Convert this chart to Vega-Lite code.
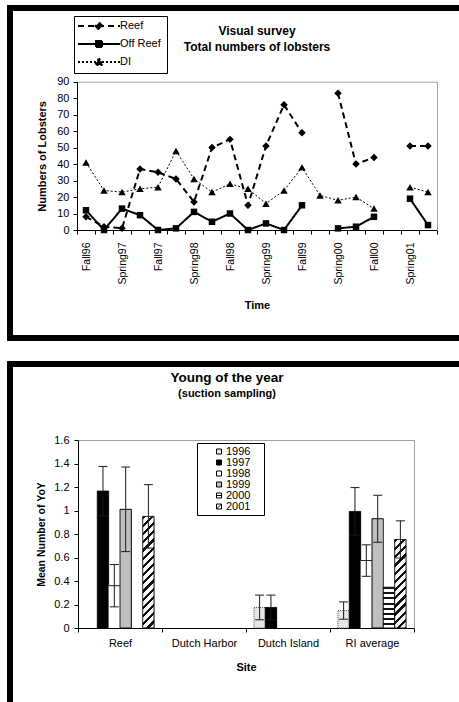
{
  "$schema": "https://vega.github.io/schema/vega-lite/v6.json",
  "padding": {"left": 2, "top": 5, "right": 0, "bottom": 0},
  "background": "white",
  "spacing": 20,
  "resolve": {"legend": {"fill": "independent", "strokeDash": "independent"}},
  "config": {
    "font": "Liberation Sans",
    "axis": {"labelFont": "Liberation Sans", "titleFont": "Liberation Sans", "labelColor": "black", "titleColor": "black", "domainColor": "black", "tickColor": "black", "grid": false, "titleFontWeight": "bold"},
    "legend": {"labelFont": "Liberation Sans", "labelColor": "black"},
    "title": {"font": "Liberation Sans", "subtitleFont": "Liberation Sans", "color": "black", "subtitleColor": "black"}
  },
  "vconcat": [
    {
      "width": 457,
      "height": 330,
      "view": {"stroke": "black", "strokeWidth": 6, "fill": "white"},
      "title": {"text": "Visual survey", "subtitle": "Total numbers of lobsters", "anchor": "start", "frame": "group", "align": "center", "dx": 247, "offset": -46, "fontSize": 12, "fontWeight": "bold", "subtitleFontSize": 12, "subtitleFontWeight": "bold", "subtitlePadding": 4},
      "data": {"values": [
        {"t": 1, "p": "Fall96", "s": "Reef", "v": 8}, {"t": 1, "p": "Fall96", "s": "Off Reef", "v": 12}, {"t": 1, "p": "Fall96", "s": "DI", "v": 41},
        {"t": 2, "p": "Winter97", "s": "Reef", "v": 2}, {"t": 2, "p": "Winter97", "s": "Off Reef", "v": 0}, {"t": 2, "p": "Winter97", "s": "DI", "v": 24},
        {"t": 3, "p": "Spring97", "s": "Reef", "v": 1}, {"t": 3, "p": "Spring97", "s": "Off Reef", "v": 13}, {"t": 3, "p": "Spring97", "s": "DI", "v": 23},
        {"t": 4, "p": "Summer97", "s": "Reef", "v": 37}, {"t": 4, "p": "Summer97", "s": "Off Reef", "v": 9}, {"t": 4, "p": "Summer97", "s": "DI", "v": 25},
        {"t": 5, "p": "Fall97", "s": "Reef", "v": 35}, {"t": 5, "p": "Fall97", "s": "Off Reef", "v": 0}, {"t": 5, "p": "Fall97", "s": "DI", "v": 26},
        {"t": 6, "p": "Winter98", "s": "Reef", "v": 31}, {"t": 6, "p": "Winter98", "s": "Off Reef", "v": 1}, {"t": 6, "p": "Winter98", "s": "DI", "v": 48},
        {"t": 7, "p": "Spring98", "s": "Reef", "v": 17}, {"t": 7, "p": "Spring98", "s": "Off Reef", "v": 11}, {"t": 7, "p": "Spring98", "s": "DI", "v": 31},
        {"t": 8, "p": "Summer98", "s": "Reef", "v": 50}, {"t": 8, "p": "Summer98", "s": "Off Reef", "v": 5}, {"t": 8, "p": "Summer98", "s": "DI", "v": 23},
        {"t": 9, "p": "Fall98", "s": "Reef", "v": 55}, {"t": 9, "p": "Fall98", "s": "Off Reef", "v": 10}, {"t": 9, "p": "Fall98", "s": "DI", "v": 28},
        {"t": 10, "p": "Winter99", "s": "Reef", "v": 15}, {"t": 10, "p": "Winter99", "s": "Off Reef", "v": 0}, {"t": 10, "p": "Winter99", "s": "DI", "v": 25},
        {"t": 11, "p": "Spring99", "s": "Reef", "v": 51}, {"t": 11, "p": "Spring99", "s": "Off Reef", "v": 4}, {"t": 11, "p": "Spring99", "s": "DI", "v": 16},
        {"t": 12, "p": "Summer99", "s": "Reef", "v": 76}, {"t": 12, "p": "Summer99", "s": "Off Reef", "v": 0}, {"t": 12, "p": "Summer99", "s": "DI", "v": 24},
        {"t": 13, "p": "Fall99", "s": "Reef", "v": 59}, {"t": 13, "p": "Fall99", "s": "Off Reef", "v": 15}, {"t": 13, "p": "Fall99", "s": "DI", "v": 38},
        {"t": 14, "p": "Winter00", "s": "Reef", "v": null}, {"t": 14, "p": "Winter00", "s": "Off Reef", "v": null}, {"t": 14, "p": "Winter00", "s": "DI", "v": 21},
        {"t": 15, "p": "Spring00", "s": "Reef", "v": 83}, {"t": 15, "p": "Spring00", "s": "Off Reef", "v": 1}, {"t": 15, "p": "Spring00", "s": "DI", "v": 18},
        {"t": 16, "p": "Summer00", "s": "Reef", "v": 40}, {"t": 16, "p": "Summer00", "s": "Off Reef", "v": 2}, {"t": 16, "p": "Summer00", "s": "DI", "v": 20},
        {"t": 17, "p": "Fall00", "s": "Reef", "v": 44}, {"t": 17, "p": "Fall00", "s": "Off Reef", "v": 8}, {"t": 17, "p": "Fall00", "s": "DI", "v": 13},
        {"t": 18, "p": "Winter01", "s": "Reef", "v": null}, {"t": 18, "p": "Winter01", "s": "Off Reef", "v": null}, {"t": 18, "p": "Winter01", "s": "DI", "v": null},
        {"t": 19, "p": "Spring01", "s": "Reef", "v": 51}, {"t": 19, "p": "Spring01", "s": "Off Reef", "v": 19}, {"t": 19, "p": "Spring01", "s": "DI", "v": 26},
        {"t": 20, "p": "Summer01", "s": "Reef", "v": 51}, {"t": 20, "p": "Summer01", "s": "Off Reef", "v": 3}, {"t": 20, "p": "Summer01", "s": "DI", "v": 23}
      ]},
      "layer": [
        {
          "mark": {"type": "line", "color": "black", "invalid": "break-paths-show-domains"},
          "encoding": {
            "x": {
              "field": "p", "type": "nominal",
              "scale": {"type": "band", "domain": ["Fall96","Winter97","Spring97","Summer97","Fall97","Winter98","Spring98","Summer98","Fall98","Winter99","Spring99","Summer99","Fall99","Winter00","Spring00","Summer00","Fall00","Winter01","Spring01","Summer01"], "range": [67, 427], "paddingInner": 0, "paddingOuter": 0},
              "axis": {"orient": "bottom", "offset": -108, "tickBand": "extent", "tickSize": 4, "labelAngle": -90, "labelPadding": 8, "labelFontSize": 10.5, "labelOverlap": false, "labelExpr": "indexof(datum.label,'Fall')===0 || indexof(datum.label,'Spring')===0 ? datum.label : ''", "title": "Time", "titleFontSize": 11, "titleY": 78, "titleBaseline": "alphabetic"}
            },
            "y": {
              "field": "v", "type": "quantitative",
              "scale": {"domain": [0, 90], "range": [222, 73.7], "nice": false},
              "axis": {"orient": "left", "offset": -67, "values": [0,10,20,30,40,50,60,70,80,90], "tickSize": 4, "labelPadding": 4, "labelFontSize": 11, "title": "Numbers of Lobsters", "titleFontSize": 11, "titleX": -35, "titleBaseline": "middle"}
            },
            "order": {"field": "t", "type": "quantitative"},
            "strokeDash": {
              "field": "s", "type": "nominal",
              "scale": {"domain": ["Reef", "Off Reef", "DI"], "range": [[6, 4], [1, 0], [2, 2]]},
              "legend": {
                "orient": "none", "legendX": 64, "legendY": 8, "title": " ", "titleOrient": "right", "titlePadding": 2, "titleFontSize": 11, "padding": 4,
                "strokeColor": "black", "fillColor": "white",
                "symbolSize": 100, "rowPadding": 3, "symbolOffset": 15, "labelOffset": 15,
                "labelFontSize": 11, "symbolStrokeColor": "black", "symbolStrokeWidth": 2,
                "encode": {
                  "symbols": {"update": {
                    "shape": {"signal": "datum.value==='Reef' ? 'M-4.2,0H4.2M0,-0.7L0.7,0L0,0.7L-0.7,0Z' : datum.value==='Off Reef' ? 'M-4.2,0H4.2M-0.6,-0.6H0.6V0.6H-0.6Z' : 'M-4.2,0H4.2M0,-0.75L0.75,0.6L-0.75,0.6Z'"},
                    "fill": {"value": "black"},
                    "stroke": {"value": "black"}
                  }}
                }
              }
            },
            "strokeWidth": {"condition": {"test": "datum.s==='DI'", "value": 1}, "value": 2}
          }
        },
        {
          "mark": {"type": "point", "filled": true, "color": "black", "opacity": 1},
          "encoding": {
            "x": {"field": "p", "type": "nominal", "axis": null},
            "y": {"field": "v", "type": "quantitative", "axis": null},
            "shape": {"field": "s", "type": "nominal", "scale": {"domain": ["Reef", "Off Reef", "DI"], "range": ["diamond", "square", "triangle-up"]}, "legend": null},
            "size": {"condition": {"test": "datum.s==='Off Reef'", "value": 42}, "value": 56}
          }
        },
        {
          "mark": {"type": "point", "opacity": 0},
          "encoding": {
            "x": {"field": "p", "type": "nominal", "axis": {"orient": "top", "offset": -73.7, "domainColor": "#a0a0a0", "ticks": false, "labels": false, "title": null}},
            "y": {"field": "v", "type": "quantitative", "axis": {"orient": "right", "offset": -30, "domainColor": "#a0a0a0", "ticks": false, "labels": false, "title": null}}
          }
        }
      ],
      "resolve": {"axis": {"x": "independent", "y": "independent"}}
    },
    {
      "width": 457,
      "height": 342,
      "view": {"stroke": "black", "strokeWidth": 6, "fill": "white"},
      "title": {"text": "Young of the year", "subtitle": "(suction sampling)", "anchor": "start", "frame": "group", "align": "center", "dx": 217, "offset": -35, "fontSize": 13.5, "fontWeight": "bold", "subtitleFontSize": 11, "subtitleFontWeight": "bold", "subtitlePadding": 4},
      "data": {"values": [
        {"site": "Reef", "year": "1997", "v": 1.165, "lo": 0.955, "hi": 1.375},
        {"site": "Reef", "year": "1998", "v": 0.36, "lo": 0.18, "hi": 0.54},
        {"site": "Reef", "year": "1999", "v": 1.01, "lo": 0.65, "hi": 1.37},
        {"site": "Reef", "year": "2001", "v": 0.95, "lo": 0.68, "hi": 1.22},
        {"site": "Dutch Island", "year": "1996", "v": 0.175, "lo": 0.07, "hi": 0.28},
        {"site": "Dutch Island", "year": "1997", "v": 0.175, "lo": 0.07, "hi": 0.28},
        {"site": "RI average", "year": "1996", "v": 0.148, "lo": 0.075, "hi": 0.222},
        {"site": "RI average", "year": "1997", "v": 0.992, "lo": 0.79, "hi": 1.195},
        {"site": "RI average", "year": "1998", "v": 0.574, "lo": 0.44, "hi": 0.708},
        {"site": "RI average", "year": "1999", "v": 0.93, "lo": 0.73, "hi": 1.13},
        {"site": "RI average", "year": "2000", "v": 0.347, "lo": null, "hi": null},
        {"site": "RI average", "year": "2001", "v": 0.753, "lo": 0.595, "hi": 0.912}
      ]},
      "layer": [
        {
          "mark": {"type": "bar", "strokeWidth": 1},
          "encoding": {
            "x": {
              "field": "site", "type": "nominal",
              "scale": {"type": "band", "domain": ["Reef", "Dutch Harbor", "Dutch Island", "RI average"], "range": [68, 404], "paddingInner": 0, "paddingOuter": 0},
              "axis": {"orient": "bottom", "offset": -78, "tickBand": "extent", "tickSize": 4, "labelPadding": 5, "labelFontSize": 11, "labelAngle": 0, "title": "Site", "titleFontSize": 11, "titleY": 42, "titleBaseline": "alphabetic"}
            },
            "xOffset": {"field": "year", "type": "nominal", "scale": {"type": "band", "domain": ["1996", "1997", "1998", "1999", "2000", "2001"], "paddingInner": 0, "paddingOuter": 0.7}},
            "y": {
              "field": "v", "type": "quantitative",
              "scale": {"domain": [0, 1.6], "range": [264, 76], "nice": false},
              "axis": {"orient": "left", "offset": -68, "values": [0, 0.2, 0.4, 0.6, 0.8, 1, 1.2, 1.4, 1.6], "format": "~g", "tickSize": 4, "labelPadding": 5, "labelFontSize": 11, "title": "Mean Number of YoY", "titleFontSize": 10.5, "titleX": -37, "titleBaseline": "middle"}
            },
            "fill": {
              "condition": [
                {"test": "datum.site==='Reef' && datum.year==='2001'", "value": {"gradient": "linear", "x1": 0, "y1": 0, "x2": 0.1109, "y2": 1.0904, "stops": [
                  {"offset": 0, "color": "#111"}, {"offset": 0.0267, "color": "#111"}, {"offset": 0.0267, "color": "white"}, {"offset": 0.0667, "color": "white"},
                  {"offset": 0.0667, "color": "#111"}, {"offset": 0.0933, "color": "#111"}, {"offset": 0.0933, "color": "white"}, {"offset": 0.1333, "color": "white"},
                  {"offset": 0.1333, "color": "#111"}, {"offset": 0.16, "color": "#111"}, {"offset": 0.16, "color": "white"}, {"offset": 0.2, "color": "white"},
                  {"offset": 0.2, "color": "#111"}, {"offset": 0.2267, "color": "#111"}, {"offset": 0.2267, "color": "white"}, {"offset": 0.2667, "color": "white"},
                  {"offset": 0.2667, "color": "#111"}, {"offset": 0.2933, "color": "#111"}, {"offset": 0.2933, "color": "white"}, {"offset": 0.3333, "color": "white"},
                  {"offset": 0.3333, "color": "#111"}, {"offset": 0.36, "color": "#111"}, {"offset": 0.36, "color": "white"}, {"offset": 0.4, "color": "white"},
                  {"offset": 0.4, "color": "#111"}, {"offset": 0.4267, "color": "#111"}, {"offset": 0.4267, "color": "white"}, {"offset": 0.4667, "color": "white"},
                  {"offset": 0.4667, "color": "#111"}, {"offset": 0.4933, "color": "#111"}, {"offset": 0.4933, "color": "white"}, {"offset": 0.5333, "color": "white"},
                  {"offset": 0.5333, "color": "#111"}, {"offset": 0.56, "color": "#111"}, {"offset": 0.56, "color": "white"}, {"offset": 0.6, "color": "white"},
                  {"offset": 0.6, "color": "#111"}, {"offset": 0.6267, "color": "#111"}, {"offset": 0.6267, "color": "white"}, {"offset": 0.6667, "color": "white"},
                  {"offset": 0.6667, "color": "#111"}, {"offset": 0.6933, "color": "#111"}, {"offset": 0.6933, "color": "white"}, {"offset": 0.7333, "color": "white"},
                  {"offset": 0.7333, "color": "#111"}, {"offset": 0.76, "color": "#111"}, {"offset": 0.76, "color": "white"}, {"offset": 0.8, "color": "white"},
                  {"offset": 0.8, "color": "#111"}, {"offset": 0.8267, "color": "#111"}, {"offset": 0.8267, "color": "white"}, {"offset": 0.8667, "color": "white"},
                  {"offset": 0.8667, "color": "#111"}, {"offset": 0.8933, "color": "#111"}, {"offset": 0.8933, "color": "white"}, {"offset": 0.9333, "color": "white"},
                  {"offset": 0.9333, "color": "#111"}, {"offset": 0.96, "color": "#111"}, {"offset": 0.96, "color": "white"}, {"offset": 1, "color": "white"}
                ]}},
                {"test": "datum.site==='RI average' && datum.year==='2001'", "value": {"gradient": "linear", "x1": 0, "y1": 0, "x2": 0.1753, "y2": 1.3666, "stops": [
                  {"offset": 0, "color": "#111"}, {"offset": 0.0267, "color": "#111"}, {"offset": 0.0267, "color": "white"}, {"offset": 0.0667, "color": "white"},
                  {"offset": 0.0667, "color": "#111"}, {"offset": 0.0933, "color": "#111"}, {"offset": 0.0933, "color": "white"}, {"offset": 0.1333, "color": "white"},
                  {"offset": 0.1333, "color": "#111"}, {"offset": 0.16, "color": "#111"}, {"offset": 0.16, "color": "white"}, {"offset": 0.2, "color": "white"},
                  {"offset": 0.2, "color": "#111"}, {"offset": 0.2267, "color": "#111"}, {"offset": 0.2267, "color": "white"}, {"offset": 0.2667, "color": "white"},
                  {"offset": 0.2667, "color": "#111"}, {"offset": 0.2933, "color": "#111"}, {"offset": 0.2933, "color": "white"}, {"offset": 0.3333, "color": "white"},
                  {"offset": 0.3333, "color": "#111"}, {"offset": 0.36, "color": "#111"}, {"offset": 0.36, "color": "white"}, {"offset": 0.4, "color": "white"},
                  {"offset": 0.4, "color": "#111"}, {"offset": 0.4267, "color": "#111"}, {"offset": 0.4267, "color": "white"}, {"offset": 0.4667, "color": "white"},
                  {"offset": 0.4667, "color": "#111"}, {"offset": 0.4933, "color": "#111"}, {"offset": 0.4933, "color": "white"}, {"offset": 0.5333, "color": "white"},
                  {"offset": 0.5333, "color": "#111"}, {"offset": 0.56, "color": "#111"}, {"offset": 0.56, "color": "white"}, {"offset": 0.6, "color": "white"},
                  {"offset": 0.6, "color": "#111"}, {"offset": 0.6267, "color": "#111"}, {"offset": 0.6267, "color": "white"}, {"offset": 0.6667, "color": "white"},
                  {"offset": 0.6667, "color": "#111"}, {"offset": 0.6933, "color": "#111"}, {"offset": 0.6933, "color": "white"}, {"offset": 0.7333, "color": "white"},
                  {"offset": 0.7333, "color": "#111"}, {"offset": 0.76, "color": "#111"}, {"offset": 0.76, "color": "white"}, {"offset": 0.8, "color": "white"},
                  {"offset": 0.8, "color": "#111"}, {"offset": 0.8267, "color": "#111"}, {"offset": 0.8267, "color": "white"}, {"offset": 0.8667, "color": "white"},
                  {"offset": 0.8667, "color": "#111"}, {"offset": 0.8933, "color": "#111"}, {"offset": 0.8933, "color": "white"}, {"offset": 0.9333, "color": "white"},
                  {"offset": 0.9333, "color": "#111"}, {"offset": 0.96, "color": "#111"}, {"offset": 0.96, "color": "white"}, {"offset": 1, "color": "white"}
                ]}},
                {"test": "datum.year==='2000'", "value": {"gradient": "linear", "x1": 0, "y1": 0, "x2": 0, "y2": 1, "stops": [
                  {"offset": 0, "color": "#111"}, {"offset": 0.05, "color": "#111"}, {"offset": 0.05, "color": "white"}, {"offset": 0.125, "color": "white"},
                  {"offset": 0.125, "color": "#111"}, {"offset": 0.175, "color": "#111"}, {"offset": 0.175, "color": "white"}, {"offset": 0.25, "color": "white"},
                  {"offset": 0.25, "color": "#111"}, {"offset": 0.3, "color": "#111"}, {"offset": 0.3, "color": "white"}, {"offset": 0.375, "color": "white"},
                  {"offset": 0.375, "color": "#111"}, {"offset": 0.425, "color": "#111"}, {"offset": 0.425, "color": "white"}, {"offset": 0.5, "color": "white"},
                  {"offset": 0.5, "color": "#111"}, {"offset": 0.55, "color": "#111"}, {"offset": 0.55, "color": "white"}, {"offset": 0.625, "color": "white"},
                  {"offset": 0.625, "color": "#111"}, {"offset": 0.675, "color": "#111"}, {"offset": 0.675, "color": "white"}, {"offset": 0.75, "color": "white"},
                  {"offset": 0.75, "color": "#111"}, {"offset": 0.8, "color": "#111"}, {"offset": 0.8, "color": "white"}, {"offset": 0.875, "color": "white"},
                  {"offset": 0.875, "color": "#111"}, {"offset": 0.925, "color": "#111"}, {"offset": 0.925, "color": "white"}, {"offset": 1, "color": "white"}
                ]}}
              ],
              "field": "year", "type": "nominal",
              "scale": {"domain": ["1996", "1997", "1998", "1999", "2000", "2001"], "range": ["#e6e6e6", "black", "white", "#bfbfbf", "white", "white"]},
              "legend": {
                "orient": "none", "legendX": 187, "legendY": 79, "title": " ", "titleOrient": "right", "titlePadding": 11, "titleFontSize": 11, "padding": 3,
                "strokeColor": "black", "fillColor": "white",
                "symbolType": "square", "symbolSize": 25, "rowPadding": -1.2, "symbolOffset": 13.5, "labelOffset": 1.5,
                "labelFontSize": 11, "symbolStrokeColor": "black", "symbolStrokeWidth": 1,
                "encode": {
                  "symbols": {"update": {
                    "shape": {"signal": "datum.value==='2000' ? 'M-1,-1H1V1H-1Z M-1,0H1' : datum.value==='2001' ? 'M-1,-1H1V1H-1Z M-1,1L1,-1' : 'square'"},
                    "stroke": {"value": "black"},
                    "strokeWidth": {"value": 1}
                  }}
                }
              }
            },
            "stroke": {"condition": [{"test": "datum.year==='1998'", "value": "transparent"}, {"test": "datum.year==='1996'", "value": "#555"}], "value": "black"},
            "strokeDash": {"condition": {"test": "datum.year==='1996'", "value": [1, 1]}, "value": [1, 0]}
          }
        },
        {
          "mark": {"type": "rule", "color": "#1a1a1a", "strokeWidth": 1},
          "encoding": {
            "x": {"field": "site", "type": "nominal", "axis": null},
            "xOffset": {"field": "year", "type": "nominal"},
            "y": {"field": "lo", "type": "quantitative", "axis": null},
            "y2": {"field": "hi"}
          }
        },
        {
          "mark": {"type": "tick", "color": "#1a1a1a", "thickness": 1, "size": 9, "opacity": 1},
          "encoding": {
            "x": {"field": "site", "type": "nominal", "axis": null},
            "xOffset": {"field": "year", "type": "nominal"},
            "y": {"field": "hi", "type": "quantitative", "axis": null}
          }
        },
        {
          "mark": {"type": "tick", "color": "#1a1a1a", "thickness": 1, "size": 9, "opacity": 1},
          "encoding": {
            "x": {"field": "site", "type": "nominal", "axis": null},
            "xOffset": {"field": "year", "type": "nominal"},
            "y": {"field": "lo", "type": "quantitative", "axis": null}
          }
        },
        {
          "transform": [{"filter": "datum.year==='1998'"}],
          "mark": {"type": "tick", "color": "#1a1a1a", "thickness": 1, "size": 11.35, "opacity": 1},
          "encoding": {
            "x": {"field": "site", "type": "nominal", "axis": null},
            "xOffset": {"field": "year", "type": "nominal"},
            "y": {"field": "v", "type": "quantitative", "axis": null}
          }
        },
        {
          "mark": {"type": "point", "opacity": 0},
          "encoding": {
            "x": {"field": "site", "type": "nominal", "axis": {"orient": "top", "offset": -76, "domainColor": "#a0a0a0", "ticks": false, "labels": false, "title": null}},
            "y": {"field": "v", "type": "quantitative", "axis": {"orient": "right", "offset": -53, "domainColor": "#a0a0a0", "ticks": false, "labels": false, "title": null}}
          }
        }
      ],
      "resolve": {"axis": {"x": "independent", "y": "independent"}}
    }
  ]
}
